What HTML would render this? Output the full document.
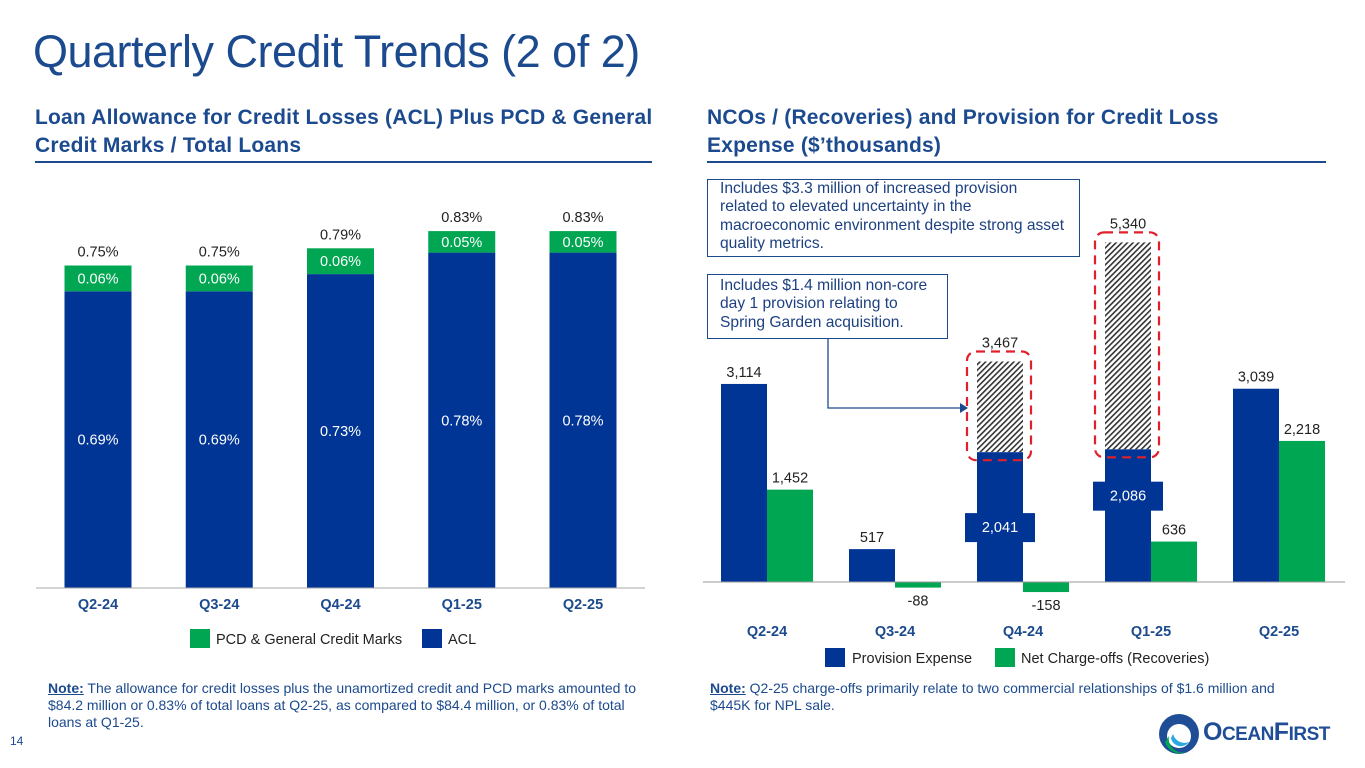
<!DOCTYPE html>
<html><head><meta charset="utf-8"><style>
body{margin:0;width:1365px;height:768px;background:#fff;font-family:"Liberation Sans",Arial,sans-serif;overflow:hidden;position:relative}
.abs{position:absolute}
.title{left:33px;top:26px;font-size:45px;color:#1C4A8E;letter-spacing:-0.5px}
.sub{font-size:21px;font-weight:bold;color:#1C4A8E;line-height:28px;letter-spacing:0.2px}
.rule{height:2px;background:#1C4A8E}
.note{font-size:14px;color:#1C4A8E;line-height:17px;white-space:nowrap}
.note b{text-decoration:underline}
.box{border:1.5px solid #1C4A8E;font-size:15.6px;line-height:18.3px;color:#1C4080;padding:0 4px 0 12px;background:#fff;box-sizing:border-box;white-space:nowrap}
</style></head><body>
<div class="abs title">Quarterly Credit Trends (2 of 2)</div>
<div class="abs sub" style="left:35px;top:104px;width:660px">Loan Allowance for Credit Losses (ACL) Plus PCD &amp; General<br>Credit Marks / Total Loans</div>
<div class="abs rule" style="left:35px;top:161px;width:617px"></div>
<div class="abs sub" style="left:707px;top:104px;width:640px">NCOs / (Recoveries) and Provision for Credit Loss<br>Expense ($’thousands)</div>
<div class="abs rule" style="left:707px;top:161px;width:619px"></div>

<svg class="abs" style="left:0;top:0" width="1365" height="768" id="svg">
<defs><pattern id="hatch" width="4" height="4" patternUnits="userSpaceOnUse" patternTransform="rotate(45)"><rect width="4" height="4" fill="#fff"/><rect width="1.6" height="4" fill="#333"/></pattern></defs>
<g id="left"></g><g id="right"></g>
</svg>

<div class="abs box" style="left:707px;top:179px;width:373px;height:78px">Includes $3.3 million of increased provision<br>related to elevated uncertainty in the<br>macroeconomic environment despite strong asset<br>quality metrics.</div>
<div class="abs box" style="left:707px;top:274px;width:241px;height:65px;padding-top:2px">Includes $1.4 million non-core<br>day 1 provision relating to<br>Spring Garden acquisition.</div>

<div class="abs note" style="left:48px;top:680px"><b>Note:</b> The allowance for credit losses plus the unamortized credit and PCD marks amounted to<br>$84.2 million or 0.83% of total loans at Q2-25, as compared to $84.4 million, or 0.83% of total<br>loans at Q1-25.</div>
<div class="abs note" style="left:710px;top:680px"><b>Note:</b> Q2-25 charge-offs primarily relate to two commercial relationships of $1.6 million and<br>$445K for NPL sale.</div>
<div class="abs" style="left:10px;top:734px;font-size:12px;color:#1C4A8E">14</div>

<div class="abs" style="left:1157px;top:712px;width:45px;height:45px">
<svg width="45" height="45"><circle cx="22" cy="22" r="20" fill="#1F4E96"/><circle cx="22" cy="24" r="12" fill="#fff"/><path d="M8 30 A16 16 0 0 0 30 40 A14 14 0 0 1 12 24 Z" fill="#00A651"/><path d="M14 26 A10 10 0 0 0 32 30 A12 12 0 0 1 16 22Z" fill="#29A9E0"/></svg></div>
<div class="abs" style="left:1203px;top:718px;font-size:25px;font-weight:bold;color:#1F4E96;letter-spacing:-0.5px">O<span style="font-size:19px">CEAN</span>F<span style="font-size:19px">IRST</span></div>

<script>
const lCats=["Q2-24","Q3-24","Q4-24","Q1-25","Q2-25"];
const aclVals=[0.69,0.69,0.73,0.78,0.78];
const pcdVals=[0.06,0.06,0.06,0.05,0.05];
const totalLabels=["0.75%","0.75%","0.79%","0.83%","0.83%"];
const rCats=["Q2-24","Q3-24","Q4-24","Q1-25","Q2-25"];
const provVals=[3114,517,3467,5340,3039];
const coreProvVals=[null,null,2041,2086,null];
const ncoVals=[1452,-88,-158,636,2218];

const NS="http://www.w3.org/2000/svg";
function mk(parent,tag,attrs,text){const e=document.createElementNS(NS,tag);for(const k in attrs)e.setAttribute(k,attrs[k]);if(text!=null)e.textContent=text;parent.appendChild(e);return e;}
const BLUE="#003595",GREEN="#00A651";
const FS=14.5;
// left
const L=document.getElementById('left');
const lBase=588, lScale=430;
const lx=i=>98+i*121.25, ly=v=>lBase-v*lScale;
lCats.forEach((c,i)=>{
  const x=lx(i)-33.5, a=aclVals[i], p=pcdVals[i];
  let r=mk(L,'rect',{x:x,y:ly(a),width:67,height:a*lScale,fill:BLUE});
  
  r=mk(L,'rect',{x:x,y:ly(a+p),width:67,height:p*lScale,fill:GREEN});
  
  mk(L,'text',{x:lx(i),y:(ly(a)+lBase)/2+5,'text-anchor':'middle','font-size':FS,fill:'#fff'},a.toFixed(2)+'%');
  mk(L,'text',{x:lx(i),y:(ly(a)+ly(a+p))/2+5,'text-anchor':'middle','font-size':FS,fill:'#fff'},p.toFixed(2)+'%');
  mk(L,'text',{x:lx(i),y:ly(a+p)-9,'text-anchor':'middle','font-size':FS,fill:'#222'},totalLabels[i]);
  mk(L,'text',{x:lx(i),y:609,'text-anchor':'middle','font-size':FS,'font-weight':'bold',fill:'#1C4A8E'},c);
});
mk(L,'line',{x1:36,x2:645,y1:lBase,y2:lBase,stroke:'#aaa'});
mk(L,'rect',{x:190,y:629,width:20,height:19,fill:GREEN});
mk(L,'text',{x:216,y:644,'font-size':FS,fill:'#222'},'PCD & General Credit Marks');
mk(L,'rect',{x:422,y:629,width:20,height:19,fill:BLUE});
mk(L,'text',{x:448,y:644,'font-size':FS,fill:'#222'},'ACL');
// right
const R=document.getElementById('right');
const rBase=582, rScale=0.0636;
const rx=i=>767+i*128, ry=v=>rBase-v*rScale;
rCats.forEach((c,i)=>{
  const x=rx(i), pv=provVals[i], cp=coreProvVals[i], n=ncoVals[i];
  if(cp!=null){
    let h=mk(R,'rect',{x:x-46,y:ry(pv),width:46,height:(pv-cp)*rScale,fill:'url(#hatch)'});
    
    let b=mk(R,'rect',{x:x-46,y:ry(cp),width:46,height:cp*rScale,fill:BLUE});
    
    const cy=(ry(cp)+rBase)/2+(i===2?10:-20);
    mk(R,'rect',{x:x-58,y:cy-14,width:70,height:29,fill:BLUE});
    mk(R,'text',{x:x-23,y:cy+5,'text-anchor':'middle','font-size':FS,fill:'#fff'},cp.toLocaleString('en-US'));
    mk(R,'rect',{x:x-56,y:ry(pv)-10,width:64,height:(pv-cp)*rScale+18,rx:9,fill:'none',stroke:'#E0202A','stroke-width':2.2,'stroke-dasharray':'9 6'});
  } else {
    let b=mk(R,'rect',{x:x-46,y:ry(pv),width:46,height:pv*rScale,fill:BLUE});
    
  }
  mk(R,'text',{x:x-23,y:ry(pv)-(cp!=null?14:7),'text-anchor':'middle','font-size':FS,fill:'#222'},pv.toLocaleString('en-US'));
  const top=n>=0?ry(n):rBase, hh=Math.abs(n)*rScale;
  let g=mk(R,'rect',{x:x,y:top,width:46,height:hh,fill:GREEN});
  
  mk(R,'text',{x:x+23,y:n>=0?ry(n)-7:rBase+hh+18,'text-anchor':'middle','font-size':FS,fill:'#222'},n.toLocaleString('en-US'));
  mk(R,'text',{x:x,y:636,'text-anchor':'middle','font-size':FS,'font-weight':'bold',fill:'#1C4A8E'},c);
});
mk(R,'line',{x1:703,x2:1345,y1:rBase,y2:rBase,stroke:'#999'});
mk(R,'polyline',{points:'828,339 828,408 962,408',fill:'none',stroke:'#1C4A8E','stroke-width':1.3});
mk(R,'polygon',{points:'968,408 960,403 960,413',fill:'#1C4A8E'});
mk(R,'rect',{x:825,y:648,width:20,height:19,fill:BLUE});
mk(R,'text',{x:852,y:663,'font-size':FS,fill:'#222'},'Provision Expense');
mk(R,'rect',{x:995,y:648,width:20,height:19,fill:GREEN});
mk(R,'text',{x:1021,y:663,'font-size':FS,fill:'#222'},'Net Charge-offs (Recoveries)');
</script>
</body></html>
